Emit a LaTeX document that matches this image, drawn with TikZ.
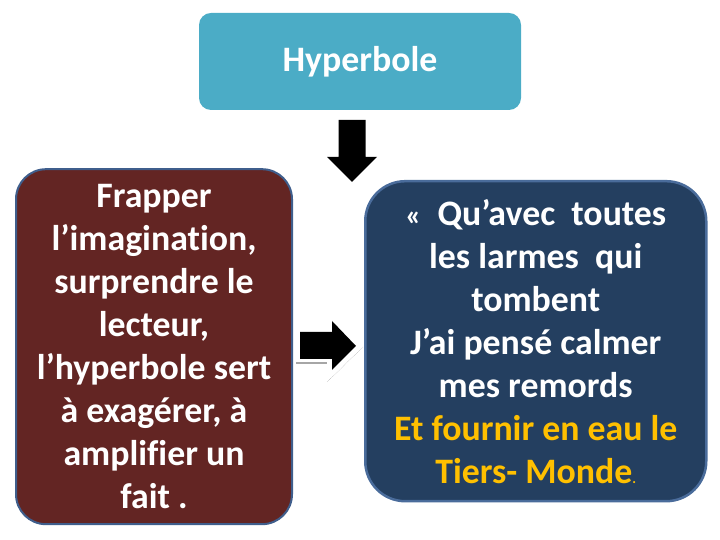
\documentclass[tikz,border=0pt]{standalone}
\usepackage{fontspec}
\setmainfont{Carlito}[Ligatures={NoCommon,NoRare,NoContextual}]
\usetikzlibrary{positioning}

\definecolor{titreBleu}{HTML}{4BACC6}
\definecolor{brunRouge}{HTML}{632523}
\definecolor{bordGris}{HTML}{3F5E8C}
\definecolor{bleuNuit}{HTML}{243F60}
\definecolor{bordBleu}{HTML}{4A6C9B}
\definecolor{jauneOr}{HTML}{FFC000}

\tikzset{
  texte/.style={text=white,align=center,font=\fontsize{35.8}{43}\selectfont\bfseries},
  titre/.style={texte,fill=titreBleu,rounded corners=12pt,minimum width=322pt,minimum height=97pt},
  sens/.style={texte,fill=brunRouge,draw=bordGris,line width=2pt,rounded corners=30pt,minimum width=276pt,minimum height=355pt},
  citation/.style={texte,fill=bleuNuit,draw=bordBleu,line width=2.5pt,rounded corners=40pt,minimum width=341pt,minimum height=320pt},
  blocfleche/.style={fill=black}
}

\begin{document}
\begin{tikzpicture}[x=1pt,y=1pt]
\useasboundingbox (0,0) rectangle (720,540);

\node[titre]    (hyp)  at (360,478.5) {Hyperbole};
\node[sens]     (def)  [below left=58pt and 67pt of hyp.south]
  {Frapper\\l’imagination,\\surprendre le\\lecteur,\\l’hyperbole sert\\à exagérer, à\\amplifier un\\fait .};
\node[citation] (vers) [right=71pt of def.east,yshift=5.5pt]
  {{\fontsize{30}{43}\selectfont«}\ \ Qu’avec\ \ toutes\\les larmes\ \ qui\\tombent\\J’ai pensé calmer\\mes remords\\
   \textcolor{jauneOr}{Et fournir en eau le}\\\textcolor{jauneOr}{Tiers- Monde{\fontsize{14}{43}\selectfont.}}};

% fleches pleines
\coordinate (bas)    at (352,358);
\coordinate (droite) at (356,194);
\fill[blocfleche] (bas) -- ++(-25,25) -- ++(11.5,0) -- ++(0,37) -- ++(27,0)
  -- ++(0,-37) -- ++(11.5,0) -- cycle;
\fill[blocfleche] (droite) -- ++(-24,25) -- ++(0,-11) -- ++(-32,0) -- ++(0,-27)
  -- ++(32,0) -- ++(0,-11) -- cycle;

% traits gris
\draw[gray!70,line width=1.3pt] (296,177) -- (327,177);
\draw[gray!60,line width=0.5pt,densely dotted] (363,193) -- (327,158);
\end{tikzpicture}
\end{document}
